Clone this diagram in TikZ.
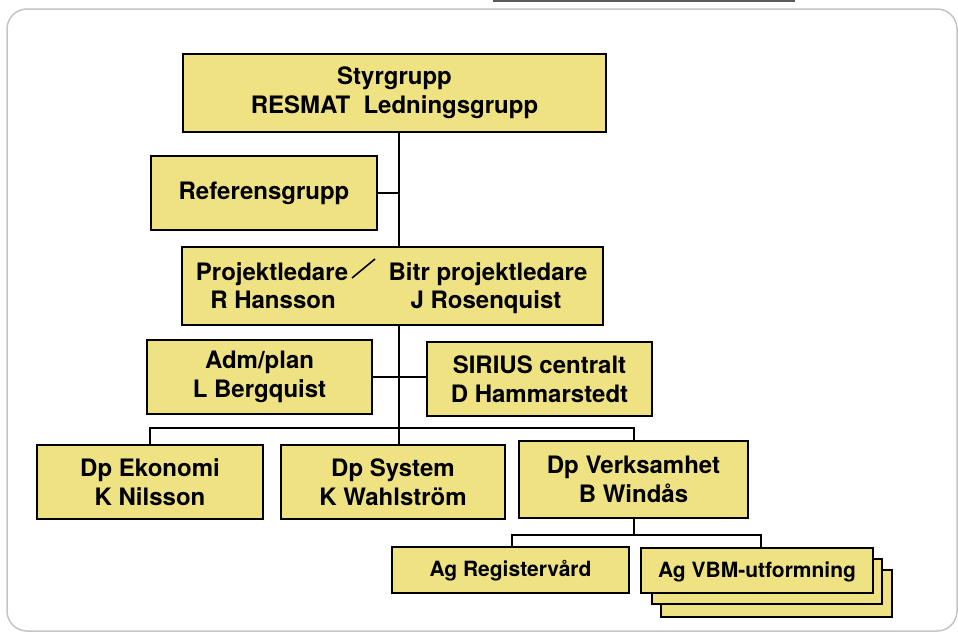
\documentclass[tikz,border=0pt]{standalone}
\usepackage{fontspec}
\newfontfamily\hv{TeX Gyre Heros}
\definecolor{boxfill}{RGB}{238,226,130}
\definecolor{framegray}{RGB}{196,196,196}
\begin{document}
\begin{tikzpicture}[x=1pt,y=-1pt,
  box/.style={draw=black, line width=2pt, fill=boxfill, inner sep=0pt, align=center,
    font=\hv\bfseries\fontsize{24}{29}\selectfont},
  smallbox/.style={box, font=\hv\bfseries\fontsize{21}{25}\selectfont},
  txt/.style={inner sep=0pt, anchor=base, font=\hv\bfseries\fontsize{24}{29}\selectfont},
  conn/.style={draw=black, line width=2pt}]
\useasboundingbox (0,0) rectangle (958,632);
% frame
\draw[framegray, line width=1.5pt, rounded corners=20pt] (7,9) rectangle (957,631);
\draw[black!65, line width=2.5pt] (493,1) -- (795,1);
\coordinate (t) at (399,0);
\coordinate (bus) at (0,428);
\coordinate (bus2) at (0,535);
% boxes
\node[box, minimum width=423pt, minimum height=78pt] (sty) at (394.5,93) {Styrgrupp\\RESMAT~ Ledningsgrupp};
\node[box, minimum width=226pt, minimum height=74pt] (ref) at (264,193) {Referensgrupp};
\node[box, minimum width=421pt, minimum height=78pt] (proj) at (392.5,286) {};
\node[txt] (p1) at (272,280) {Projektledare};
\node[txt] (p2) at (488,280) {Bitr projektledare};
\node[txt] (p3) at (273,308) {R Hansson};
\node[txt] (p4) at (486,308) {J Rosenquist};
\coordinate (sl1) at (352,278);
\coordinate (sl2) at (375,259);
\draw[line width=1.6pt] (sl1) -- (sl2);
\node[box, minimum width=225pt, minimum height=74pt] (adm) at (259.5,377) {Adm/plan\\L Bergquist};
\node[box, minimum width=225pt, minimum height=74pt] (sir) at (539.5,379) {SIRIUS centralt\\D Hammarstedt};
\node[box, minimum width=226pt, minimum height=74pt] (eko) at (150,482) {Dp Ekonomi\\K Nilsson};
\node[box, minimum width=224pt, minimum height=74pt] (sys) at (393,482) {Dp System\\K Wahlström};
\node[box, minimum width=229pt, minimum height=77pt] (ver) at (633.5,479.5) {Dp Verksamhet\\B Windås};
\node[smallbox, minimum width=237pt, minimum height=46pt, text depth=3pt] (reg) at (510.5,570) {Ag Registervård};
\node[box, minimum width=231pt, minimum height=47pt] (vbm3) at (776.5,593.5) {};
\node[box, minimum width=230pt, minimum height=45pt] (vbm2) at (767,581.5) {};
\node[smallbox, minimum width=232pt, minimum height=45pt, text depth=2pt] (vbm) at (757,570.5) {Ag VBM-utformning};
% connectors
\draw[conn] (sty.south -| t) -- (proj.north -| t);
\draw[conn] (ref.east) -- (ref.east -| t);
\draw[conn] (proj.south -| t) -- (sys.north -| t);
\draw[conn] (adm.east) -- (adm.east -| sir.west);
\draw[conn] (eko.north) -- (eko.north |- bus) -- (ver.north |- bus) -- (ver.north);
\draw[conn] (ver.south) -- (ver.south |- bus2);
\draw[conn] ([xshift=1.5pt]reg.north) -- ([xshift=1.5pt]reg.north |- bus2) -- ([xshift=4pt]vbm.north |- bus2) -- ([xshift=4pt]vbm.north);
\end{tikzpicture}
\end{document}
